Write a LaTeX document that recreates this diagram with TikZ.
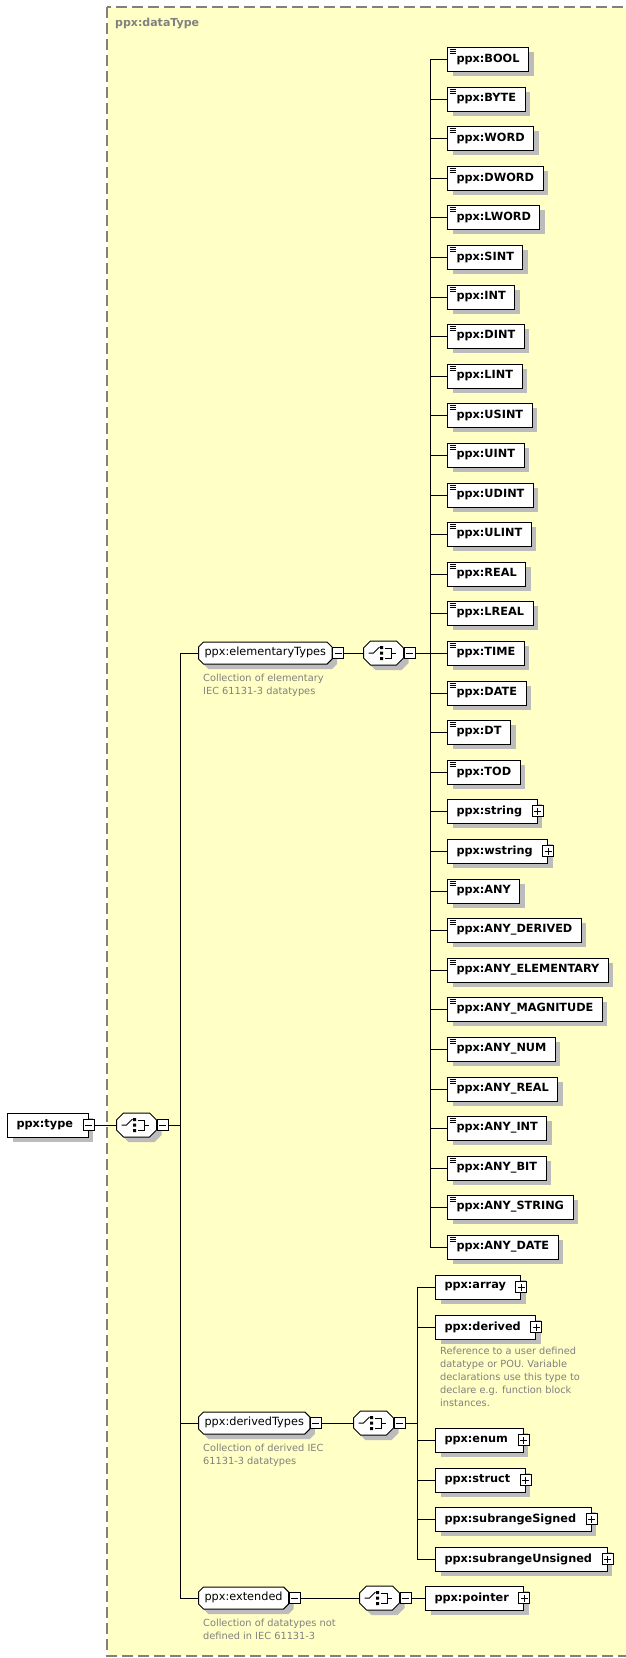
\documentclass[tikz,border=0pt]{standalone}
\usepackage{fontspec}
\setmainfont{DejaVu Sans}
\usetikzlibrary{positioning,shapes.misc,shadows}
\definecolor{XsdYellow}{RGB}{255,255,198}
\definecolor{XsdGray}{RGB}{128,128,128}
\definecolor{XsdShadow}{RGB}{188,188,188}

\begin{document}
\begin{tikzpicture}[x=1pt,y=-1pt,
  shd/.style={drop shadow={shadow xshift=5pt,shadow yshift=-5pt,fill=XsdShadow,opacity=1}},
  el/.style={rectangle,draw=black,line width=1pt,fill=white,minimum height=24pt,inner xsep=9pt,inner ysep=0pt,anchor=west,font=\bfseries\fontsize{11.3}{13}\selectfont,shd},
  xb/.style={el,execute at end node={\hspace*{6pt}}},
  doc/.style={el,path picture={
      \draw[black,line width=0.8pt] ([shift={(2pt,-2.5pt)}]path picture bounding box.north west)--++(6pt,0pt)
        ([shift={(2pt,-4.5pt)}]path picture bounding box.north west)--++(6pt,0pt)
        ([shift={(2pt,-6.5pt)}]path picture bounding box.north west)--++(6pt,0pt);}},
  grp/.style={chamfered rectangle,chamfered rectangle sep=2.5pt,draw=black,line width=1pt,fill=white,text height=8.6pt,text depth=2.7pt,inner xsep=3.5pt,inner ysep=2.85pt,anchor=west,font=\fontsize{11.3}{13}\selectfont,shd},
  seq/.style={chamfered rectangle,chamfered rectangle sep=3.5pt,draw=black,line width=1pt,fill=white,inner xsep=16.5pt,inner ysep=8.5pt,anchor=west,shd,path picture={
      \draw[black,line width=1pt,shift={(path picture bounding box.center)}] (-15,0)--(-10,0)--(-4,-6);
      \fill[black,shift={(path picture bounding box.center)}] (-3.5,-7) rectangle (-0.5,-4) (-3.5,-1.5) rectangle (-0.5,1.5) (-3.5,4) rectangle (-0.5,7);
      \draw[black,line width=1pt,shift={(path picture bounding box.center)}] (1,-5)--(8,-5)--(8,5)--(1,5) (8,0)--(12,0);}},
  col/.style={rectangle,draw=black,line width=1pt,fill=white,minimum size=11pt,inner sep=0pt,path picture={
      \draw[black,line width=1pt] ([xshift=-3.5pt]path picture bounding box.center)--([xshift=3.5pt]path picture bounding box.center);}},
  exp/.style={rectangle,draw=black,line width=1pt,fill=white,minimum size=11pt,inner sep=0pt,path picture={
      \draw[black,line width=1pt] ([xshift=-3.5pt]path picture bounding box.center)--([xshift=3.5pt]path picture bounding box.center)
        ([yshift=-3.5pt]path picture bounding box.center)--([yshift=3.5pt]path picture bounding box.center);}},
  ann/.style={anchor=north west,inner sep=0pt,align=left,text=XsdGray,font=\fontsize{9.8}{13}\selectfont},
  wire/.style={draw=black,line width=1pt}
]
  \useasboundingbox (0,0) rectangle (626,1658);
  \clip (0,0) rectangle (626,1658);
  \fill[white] (0,0) rectangle (626,1658);
  % complex type frame
  \draw[draw=XsdGray,fill=XsdYellow,line width=1.3pt,dash pattern=on 11pt off 5pt] (107,7) rectangle (660,1656);
  \node[anchor=west,inner sep=0pt,text=XsdGray,font=\bfseries\fontsize{11}{13}\selectfont] (frame) at (115,24) {ppx:dataType};

  % root
  \node[xb] (type) at (7,1125) {ppx:type};
  \node[col] (typeM) at (type.east) {};
  \node[seq] (seqMain) at (116,1125) {};
  \node[col] (seqMainM) at ([xshift=5.5pt]seqMain.east) {};
  \draw[wire] (typeM)--(seqMain);
  \coordinate (mj) at (180,1125);
  \draw[wire] (seqMainM.east)--(mj);

  % elementary types
  \node[grp] (elemT) at (198,653) {ppx:elementaryTypes};
  \node[col] (elemTM) at ([xshift=5.5pt]elemT.east) {};
  \node[ann] (elemA) at (203,674) {Collection of elementary\\IEC 61131-3 datatypes};
  \node[seq] (elemSeq) at (363,653) {};
  \node[col] (elemSeqM) at ([xshift=5.5pt]elemSeq.east) {};
  \draw[wire] (mj)|-(elemT.west);
  \draw[wire] (elemTM)--(elemSeq);
  \coordinate (ej) at (430,653);
  \draw[wire] (elemSeqM.east)--(ej);

  \node[doc] (bool) at (447,59) {ppx:BOOL};
  \node[doc] (byte) at (447,99) {ppx:BYTE};
  \node[doc] (word) at (447,138) {ppx:WORD};
  \node[doc] (dword) at (447,178) {ppx:DWORD};
  \node[doc] (lword) at (447,217) {ppx:LWORD};
  \node[doc] (sint) at (447,257) {ppx:SINT};
  \node[doc] (int) at (447,297) {ppx:INT};
  \node[doc] (dint) at (447,336) {ppx:DINT};
  \node[doc] (lint) at (447,376) {ppx:LINT};
  \node[doc] (usint) at (447,415) {ppx:USINT};
  \node[doc] (uint) at (447,455) {ppx:UINT};
  \node[doc] (udint) at (447,495) {ppx:UDINT};
  \node[doc] (ulint) at (447,534) {ppx:ULINT};
  \node[doc] (real) at (447,574) {ppx:REAL};
  \node[doc] (lreal) at (447,613) {ppx:LREAL};
  \node[doc] (time) at (447,653) {ppx:TIME};
  \node[doc] (date) at (447,693) {ppx:DATE};
  \node[doc] (dt) at (447,732) {ppx:DT};
  \node[doc] (tod) at (447,772) {ppx:TOD};
  \node[xb] (string) at (447,811) {ppx:string};
  \node[exp] (stringP) at (string.east) {};
  \node[xb] (wstring) at (447,851) {ppx:wstring};
  \node[exp] (wstringP) at (wstring.east) {};
  \node[doc] (any) at (447,891) {ppx:ANY};
  \node[doc] (anyDerived) at (447,930) {ppx:ANY\_DERIVED};
  \node[doc] (anyElementary) at (447,970) {ppx:ANY\_ELEMENTARY};
  \node[doc] (anyMagnitude) at (447,1009) {ppx:ANY\_MAGNITUDE};
  \node[doc] (anyNum) at (447,1049) {ppx:ANY\_NUM};
  \node[doc] (anyReal) at (447,1089) {ppx:ANY\_REAL};
  \node[doc] (anyInt) at (447,1128) {ppx:ANY\_INT};
  \node[doc] (anyBit) at (447,1168) {ppx:ANY\_BIT};
  \node[doc] (anyString) at (447,1207) {ppx:ANY\_STRING};
  \node[doc] (anyDate) at (447,1247) {ppx:ANY\_DATE};

  \draw[wire] (ej)|-(bool.west);
  \draw[wire] (ej)|-(byte.west);
  \draw[wire] (ej)|-(word.west);
  \draw[wire] (ej)|-(dword.west);
  \draw[wire] (ej)|-(lword.west);
  \draw[wire] (ej)|-(sint.west);
  \draw[wire] (ej)|-(int.west);
  \draw[wire] (ej)|-(dint.west);
  \draw[wire] (ej)|-(lint.west);
  \draw[wire] (ej)|-(usint.west);
  \draw[wire] (ej)|-(uint.west);
  \draw[wire] (ej)|-(udint.west);
  \draw[wire] (ej)|-(ulint.west);
  \draw[wire] (ej)|-(real.west);
  \draw[wire] (ej)|-(lreal.west);
  \draw[wire] (ej)|-(time.west);
  \draw[wire] (ej)|-(date.west);
  \draw[wire] (ej)|-(dt.west);
  \draw[wire] (ej)|-(tod.west);
  \draw[wire] (ej)|-(string.west);
  \draw[wire] (ej)|-(wstring.west);
  \draw[wire] (ej)|-(any.west);
  \draw[wire] (ej)|-(anyDerived.west);
  \draw[wire] (ej)|-(anyElementary.west);
  \draw[wire] (ej)|-(anyMagnitude.west);
  \draw[wire] (ej)|-(anyNum.west);
  \draw[wire] (ej)|-(anyReal.west);
  \draw[wire] (ej)|-(anyInt.west);
  \draw[wire] (ej)|-(anyBit.west);
  \draw[wire] (ej)|-(anyString.west);
  \draw[wire] (ej)|-(anyDate.west);

  % derived types
  \node[grp] (derT) at (198,1423) {ppx:derivedTypes};
  \node[col] (derTM) at ([xshift=5.5pt]derT.east) {};
  \node[ann] (derA) at (203,1444) {Collection of derived IEC\\61131-3 datatypes};
  \node[seq] (derSeq) at (353,1423) {};
  \node[col] (derSeqM) at ([xshift=5.5pt]derSeq.east) {};
  \draw[wire] (mj)|-(derT.west);
  \draw[wire] (derTM)--(derSeq);
  \coordinate (dj) at (417,1423);
  \draw[wire] (derSeqM.east)--(dj);

  \node[xb] (array) at (435,1287) {ppx:array};
  \node[exp] (arrayP) at (array.east) {};
  \node[xb] (derived) at (435,1327) {ppx:derived};
  \node[exp] (derivedP) at (derived.east) {};
  \node[ann] (derivedA) at (440,1347) {Reference to a user defined\\datatype or POU. Variable\\declarations use this type to\\declare e.g. function block\\instances.};
  \node[xb] (enum) at (435,1440) {ppx:enum};
  \node[exp] (enumP) at (enum.east) {};
  \node[xb] (struct) at (435,1480) {ppx:struct};
  \node[exp] (structP) at (struct.east) {};
  \node[xb] (subS) at (435,1519) {ppx:subrangeSigned};
  \node[exp] (subSP) at (subS.east) {};
  \node[xb] (subU) at (435,1559) {ppx:subrangeUnsigned};
  \node[exp] (subUP) at (subU.east) {};

  \draw[wire] (dj)|-(array.west);
  \draw[wire] (dj)|-(derived.west);
  \draw[wire] (dj)|-(enum.west);
  \draw[wire] (dj)|-(struct.west);
  \draw[wire] (dj)|-(subS.west);
  \draw[wire] (dj)|-(subU.west);

  % extended
  \node[grp] (extT) at (198,1598) {ppx:extended};
  \node[col] (extTM) at ([xshift=5.5pt]extT.east) {};
  \node[ann] (extA) at (203,1619) {Collection of datatypes not\\defined in IEC 61131-3};
  \node[seq] (extSeq) at (359,1598) {};
  \node[col] (extSeqM) at ([xshift=5.5pt]extSeq.east) {};
  \node[xb] (pointer) at (425,1598) {ppx:pointer};
  \node[exp] (pointerP) at (pointer.east) {};
  \draw[wire] (mj)|-(extT.west);
  \draw[wire] (extTM)--(extSeq);
  \draw[wire] (extSeqM)--(pointer);
\end{tikzpicture}
\end{document}
